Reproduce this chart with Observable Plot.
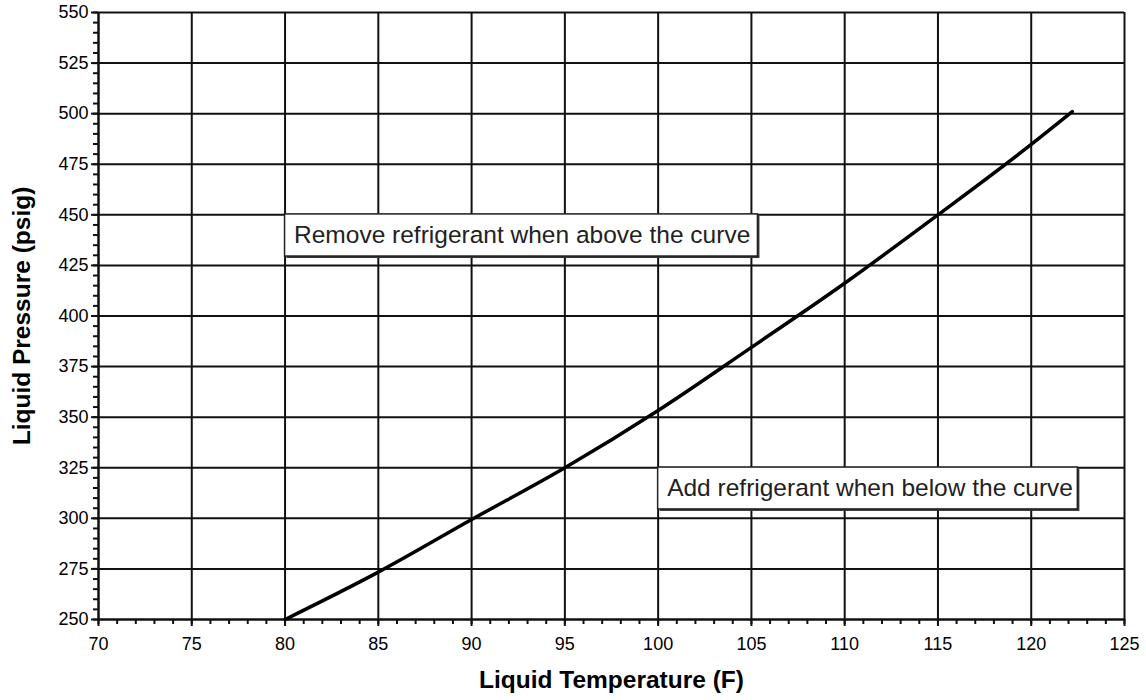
<!DOCTYPE html>
<html>
<head>
<meta charset="utf-8">
<script src="https://cdn.jsdelivr.net/npm/d3@7"></script>
<script src="https://cdn.jsdelivr.net/npm/@observablehq/plot@0.6"></script>
<style>
  body { margin: 0; background: #fff; }
</style>
</head>
<body>
<div id="chart"></div>
<script>
// Liquid temperature (F) vs liquid pressure (psig) charging curve
const temperature = [80, 85, 90, 95, 100, 105, 110, 115, 120, 122.2];
const pressure    = [250, 273.4, 299.4, 325, 353.3, 384.5, 416.2, 450, 484.8, 501];

const xTicks = [70, 75, 80, 85, 90, 95, 100, 105, 110, 115, 120, 125];
const yTicks = [250, 275, 300, 325, 350, 375, 400, 425, 450, 475, 500, 525, 550];
const xMinorTicks = d3.range(70, 126, 1);
const yMinorTicks = d3.range(250, 551, 5);

const noteText = ["Remove refrigerant when above the curve", "Add refrigerant when below the curve"];
const noteX1 = [80, 100];
const noteX2 = [105.35, 122.5];
const noteY1 = [429.4, 304.4];
const noteY2 = [450.2, 325.1];

const xTitle = "Liquid Temperature (F)";
const yTitle = "Liquid Pressure (psig)";

const curve = temperature.map((t, i) => ({t, p: pressure[i]}));
const notes = noteText.map((text, i) => ({text, x1: noteX1[i], x2: noteX2[i], y1: noteY1[i], y2: noteY2[i]}));

const ink = "#111";

const chart = Plot.plot({
  width: 1146,
  height: 700,
  marginLeft: 98,
  marginRight: 22,
  marginTop: 12,
  marginBottom: 81,
  style: {fontFamily: "'Liberation Sans', Arial, Helvetica, sans-serif", fontSize: "18px", background: "#fff", color: "#000"},
  x: {domain: [70, 125]},
  y: {domain: [250, 550]},
  marks: [
    Plot.gridX(xTicks, {stroke: ink, strokeOpacity: 1, strokeWidth: 2}),
    Plot.gridY(yTicks, {stroke: ink, strokeOpacity: 1, strokeWidth: 2}),
    Plot.axisX(xMinorTicks, {tickSize: 5, tickFormat: () => "", label: null, strokeWidth: 2, stroke: ink}),
    Plot.axisY(yMinorTicks, {tickSize: 5, tickFormat: () => "", label: null, strokeWidth: 2, stroke: ink}),
    Plot.axisX(xTicks, {tickSize: 7, tickPadding: 11, label: null, strokeWidth: 2, stroke: ink, fontSize: 18, fill: "#000"}),
    Plot.axisY(yTicks, {tickSize: 7, tickPadding: 3, label: null, strokeWidth: 2, stroke: ink, fontSize: 18, fill: "#000"}),
    Plot.ruleY([250], {stroke: ink, strokeWidth: 2}),
    Plot.ruleX([70], {stroke: ink, strokeWidth: 2}),
    Plot.line(curve, {x: "t", y: "p", stroke: "#000", strokeWidth: 3.5, curve: "monotone-x"}),
    Plot.rect(notes, {x1: "x1", x2: "x2", y1: "y1", y2: "y2", fill: "#333", dx: 2, dy: 2}),
    Plot.rect(notes, {x1: "x1", x2: "x2", y1: "y1", y2: "y2", fill: "#fff", stroke: "#222", strokeWidth: 1.5}),
    Plot.text(notes, {x: "x1", y: d => (d.y1 + d.y2) / 2, text: "text", textAnchor: "start", dx: 9, fontSize: 24.5, fill: "#222"}),
    Plot.text([xTitle], {frameAnchor: "bottom", text: d => d, textAnchor: "middle", lineAnchor: "bottom", dy: 68, fontSize: 24.5, fontWeight: "bold", fill: "#000"}),
    Plot.text([yTitle], {frameAnchor: "left", text: d => d, textAnchor: "middle", rotate: -90, lineAnchor: "bottom", dx: -69, fontSize: 24.5, fontWeight: "bold", fill: "#000"})
  ]
});

document.getElementById("chart").appendChild(chart);
</script>
</body>
</html>
